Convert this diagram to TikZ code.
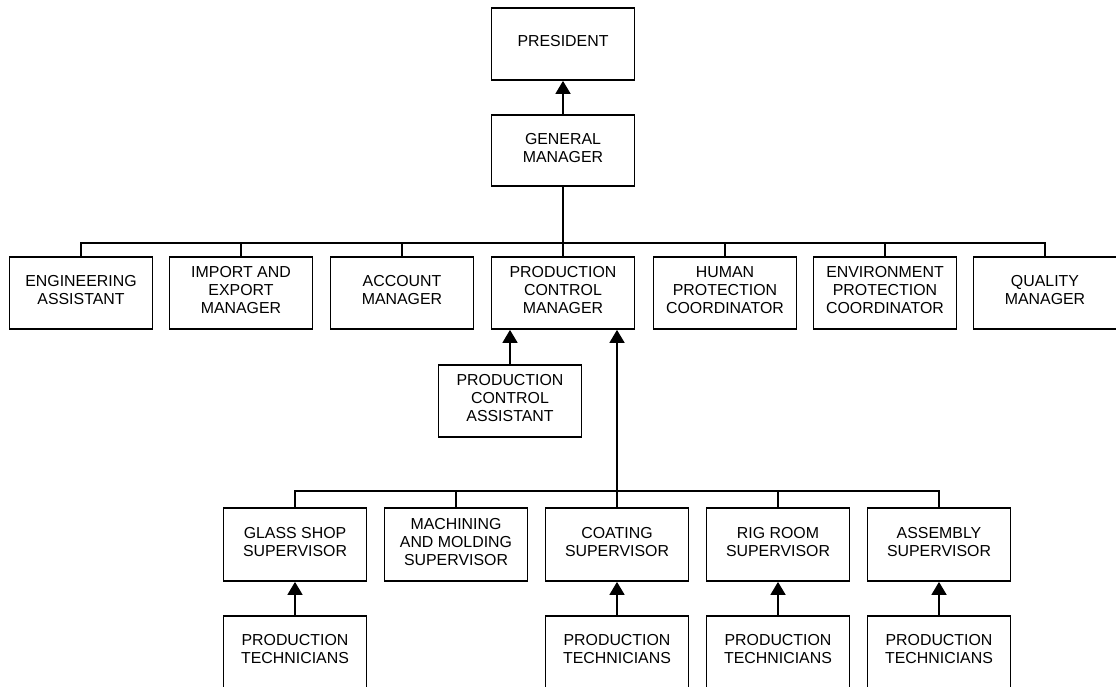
\documentclass[tikz,border=0pt]{standalone}
\usepackage{fontspec}
\setmainfont{Liberation Sans}
\usetikzlibrary{arrows.meta}
\begin{document}
\begin{tikzpicture}[x=1pt,y=-1pt,
  box/.style={draw,line width=1.8pt,minimum width=143pt,minimum height=72pt,inner sep=0pt,align=center,
    text depth=6pt,font=\fontsize{15.9}{18}\selectfont},
  conn/.style={line width=1.8pt},
  arr/.style={line width=1.8pt,-{Triangle[length=13pt,width=15pt]}}]
\useasboundingbox (0,0) rectangle (1116,686);
\clip (0,0) rectangle (1116,686);
% level 0/1
\node[box] (pres) at (563,44) {PRESIDENT};
\node[box,minimum height=71pt] (gm) at (563,150.5) {GENERAL\\MANAGER};
% level 2
\node[box] (eng) at (81,293) {ENGINEERING\\ASSISTANT};
\node[box] (imp) at (241,293) {IMPORT AND\\EXPORT\\MANAGER};
\node[box] (acc) at (402,293) {ACCOUNT\\MANAGER};
\node[box] (pcm) at (563,293) {PRODUCTION\\CONTROL\\MANAGER};
\node[box] (hum) at (725,293) {HUMAN\\PROTECTION\\COORDINATOR};
\node[box] (env) at (885,293) {ENVIRONMENT\\PROTECTION\\COORDINATOR};
\node[box] (qua) at (1045,293) {QUALITY\\MANAGER};
\node[box] (pca) at (510,401) {PRODUCTION\\CONTROL\\ASSISTANT};
% level 3
\node[box,minimum height=73pt] (gla) at (295,544.5) {GLASS SHOP\\SUPERVISOR};
\node[box,minimum height=73pt] (mac) at (456,544.5) {MACHINING\\AND MOLDING\\SUPERVISOR};
\node[box,minimum height=73pt] (coa) at (617,544.5) {COATING\\SUPERVISOR};
\node[box,minimum height=73pt] (rig) at (778,544.5) {RIG ROOM\\SUPERVISOR};
\node[box,minimum height=73pt] (ass) at (939,544.5) {ASSEMBLY\\SUPERVISOR};
% technicians
\node[box] (t1) at (295,652) {PRODUCTION\\TECHNICIANS};
\node[box] (t3) at (617,652) {PRODUCTION\\TECHNICIANS};
\node[box] (t4) at (778,652) {PRODUCTION\\TECHNICIANS};
\node[box] (t5) at (939,652) {PRODUCTION\\TECHNICIANS};
% connectors
\coordinate (bus) at (563,243);
\coordinate (bus2) at (617,491);
\draw[arr] (gm) -- (pres);
\draw[conn] (gm.south) -- (bus);
\foreach \n in {eng,imp,acc,pcm,hum,env,qua}{\draw[conn] (\n.north) |- (bus);}
\draw[arr] (pca.north) -- (pca.north |- pcm.south);
\draw[arr] (bus2) -- (bus2 |- pcm.south);
\foreach \n in {gla,mac,coa,rig,ass}{\draw[conn] (\n.north) |- (bus2);}
\draw[arr] (t1) -- (gla);
\draw[arr] (t3) -- (coa);
\draw[arr] (t4) -- (rig);
\draw[arr] (t5) -- (ass);
\end{tikzpicture}
\end{document}
